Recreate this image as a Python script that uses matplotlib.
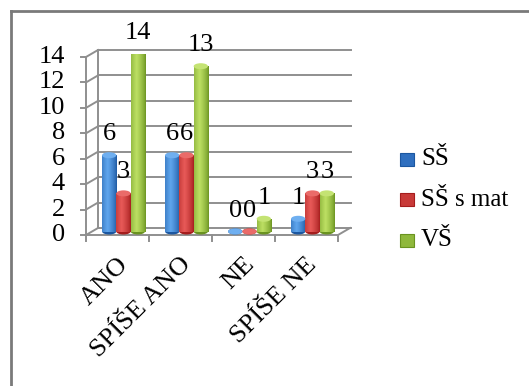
import matplotlib.pyplot as plt
import numpy as np
from matplotlib.lines import Line2D
from matplotlib.patches import Ellipse
from matplotlib.colors import to_rgb

plt.rcParams['font.family'] = 'serif'
plt.rcParams['font.serif'] = ['Liberation Serif', 'DejaVu Serif']
FONT = 'Liberation Serif'

categories = ['ANO', 'SPÍŠE ANO', 'NE', 'SPÍŠE NE']
series_names = ['SŠ', 'SŠ s mat', 'VŠ']
ss = [6, 6, 0, 1]
ss_mat = [3, 6, 0, 3]
vs = [14, 13, 1, 3]
values = [ss, ss_mat, vs]

# (edge colour, centre colour) for the cylinder shading
shades = [('#1c57a0', '#5fa6ee'), ('#a51d1d', '#e85a58'), ('#6a9320', '#bde063')]
legend_cols = ['#2f6fbf', '#c83a38', '#8fb83c']

W, H = 529, 386
fig = plt.figure(figsize=(W / 100, H / 100), dpi=100)
fig.patch.set_facecolor('white')

# outer chart frame (only left and top visible)
fig.add_artist(Line2D([11 / W, 11 / W], [0, 1 - 11 / H], color='#7a7a7a', lw=2))
fig.add_artist(Line2D([11 / W, 1], [1 - 11 / H, 1 - 11 / H], color='#7a7a7a', lw=2))

x0, x1, ytop, ybot = 86, 338, 57, 235
ax = fig.add_axes([x0 / W, 1 - ybot / H, (x1 - x0) / W, (ybot - ytop) / H])
ax.set_axis_off()

ymax = 14
px_x = 4 / (x1 - x0)
px_y = ymax / (ybot - ytop)
dx, dy = 12 * px_x, 7 * px_y
grid_c = '#8f8f8f'
fs = 19

# back wall gridlines and left wall
for v in range(0, ymax + 1, 2):
    ax.plot([dx, 4 + dx + 0.02], [v + dy, v + dy], color=grid_c, lw=1.4, clip_on=False, zorder=1)
    ax.plot([0, dx], [v, v + dy], color=grid_c, lw=1.4, clip_on=False, zorder=1)
    ax.plot([-5 * px_x, 0], [v, v], color=grid_c, lw=1.4, clip_on=False, zorder=1)
    ax.text(-21 * px_x, v, str(v), ha='right', va='center', fontsize=fs, family=FONT)
ax.plot([dx, dx], [dy, ymax + dy], color=grid_c, lw=1.4, clip_on=False, zorder=1)
ax.plot([0, 0], [0, ymax], color=grid_c, lw=1.4, clip_on=False, zorder=1)
# floor
ax.plot([0, 4], [0, 0], color=grid_c, lw=1.4, clip_on=False, zorder=1)
ax.plot([4, 4 + dx], [0, dy], color=grid_c, lw=1.4, clip_on=False, zorder=1)
for i in range(5):
    ax.plot([i, i], [0, -6 * px_y], color=grid_c, lw=1.4, clip_on=False, zorder=1)

# cylinders
bw = 14.3 / 63
cx = np.arange(len(categories)) + 0.5
grad_t = np.linspace(-1, 1, 40)
cap_h = 6 * px_y
for j, vals in enumerate(values):
    edge, centre = np.array(to_rgb(shades[j][0])), np.array(to_rgb(shades[j][1]))
    w = (1 - np.abs(grad_t + 0.25) / 1.25) ** 0.7
    img = (edge[None, :] * (1 - w[:, None]) + centre[None, :] * w[:, None])[None, :, :]
    xs = cx + (j - 1) * bw + dx / 2
    bars = ax.bar(xs, vals, width=bw, bottom=dy / 2, color=shades[j][0], zorder=3,
                  linewidth=0, label=series_names[j])
    for b, xv, v in zip(bars, xs, vals):
        im = ax.imshow(img, extent=(xv - bw / 2, xv + bw / 2, dy / 2, dy / 2 + v),
                       aspect='auto', zorder=3.5, interpolation='bilinear')
        im.set_clip_path(b)
        ax.add_patch(Ellipse((xv, dy / 2 + v), bw, cap_h, facecolor=centre * 0.9 + 0.1,
                             edgecolor='none', zorder=4))
        ax.add_patch(Ellipse((xv, dy / 2), bw, cap_h, facecolor=edge,
                             edgecolor='none', zorder=2.9))
        ax.text(xv, dy / 2 + v + 21 * px_y, str(v), ha='center', va='center',
                fontsize=fs, family=FONT, zorder=5)

# category labels
for c, name in zip(cx, categories):
    ax.text(c + 7 * px_x, -26 * px_y, name, rotation=45, rotation_mode='anchor',
            ha='right', va='center', fontsize=fs, family=FONT)

ax.set_xlim(0, 4)
ax.set_ylim(0, ymax)

# legend
leg_y = [159, 200, 240]
for j, name in enumerate(series_names):
    fy = 1 - leg_y[j] / H
    fig.patches.append(plt.Rectangle((400 / W, fy - 6.5 / H), 14 / W, 13 / H,
                                     transform=fig.transFigure, facecolor=legend_cols[j],
                                     edgecolor=shades[j][0], lw=0.8))
    fig.text(421 / W, fy, name, ha='left', va='center', fontsize=18, family=FONT)

fig.savefig('out.png', dpi=100, facecolor='white')
